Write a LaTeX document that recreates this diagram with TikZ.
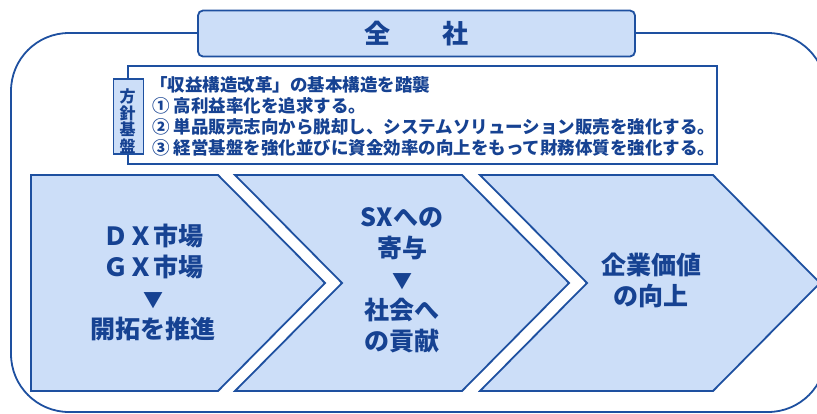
\documentclass[tikz,border=0pt]{standalone}
\usepackage{fontspec}
\newfontfamily\jp{Noto Sans CJK JP}
\definecolor{bord}{RGB}{30,80,160}
\definecolor{txt}{RGB}{22,66,146}
\definecolor{fillb}{RGB}{204,222,248}
\newcommand{\tri}{{\fontsize{20}{31}\selectfont ▼}}
\begin{document}
\begin{tikzpicture}[x=1pt,y=-1pt,
  frame/.style={draw=bord,line width=1.8pt,rounded corners=58pt},
  titlebox/.style={draw=bord,line width=1.8pt,fill=fillb,rounded corners=5pt,
    minimum width=437pt,minimum height=46pt,inner sep=0pt,text=txt,
    font=\jp\bfseries\fontsize{26}{30}\selectfont},
  policybox/.style={draw=bord,line width=1.6pt,fill=white,minimum width=589pt,
    minimum height=98pt,inner sep=0pt},
  labelbox/.style={draw=bord,line width=1.2pt,fill=fillb,minimum width=30pt,
    minimum height=75pt,inner sep=0pt},
  labeltext/.style={text=txt,align=center,inner sep=0pt,
    font=\jp\bfseries\fontsize{16}{16.5}\selectfont},
  pline/.style={anchor=west,inner sep=0pt,text=txt,
    font=\jp\bfseries\fontsize{17.5}{21}\selectfont},
  chev/.style={draw=bord,line width=1.8pt,fill=fillb,line join=miter},
  chevtext/.style={text=txt,align=center,inner sep=0pt,
    font=\jp\bfseries\fontsize{25}{31}\selectfont}]
\useasboundingbox (0,0) rectangle (817,413);
\clip (0,0) rectangle (817,413);
% outer frame
\draw[frame] (11,33) rectangle (826,412);
% title
\node[titlebox] (title) at (416.5,33.5) {全　　社};
% policy box
\node[policybox,anchor=north west] (policy) at (127,65) {};
\node[labelbox] (label) at (128.5,116.5) {};
\node[labeltext] (labeltxt) at (127.5,121) {方\\針\\基\\盤};
\node[pline] (l1) at (150,85) {「収益構造改革」の基本構造を踏襲};
\node[pline] (l2) at (152,106) {① 高利益率化を追求する。};
\node[pline] (l3) at (152,127) {② 単品販売志向から脱却し、システムソリューション販売を強化する。};
\node[pline] (l4) at (152,148) {③ 経営基盤を強化並びに資金効率の向上をもって財務体質を強化する。};
% chevrons
\draw[chev] (31,175) -- (218,175) -- (325,283) -- (218,391) -- (31,391) -- cycle;
\draw[chev] (235,175) -- (462,175) -- (569,283) -- (462,391) -- (235,391) -- (342,283) -- cycle;
\draw[chev] (480,175) -- (713,175) -- (820,283) -- (713,391) -- (480,391) -- (587,283) -- cycle;
\node[chevtext] (c1) at (153,282) {ＤＸ市場\\ＧＸ市場\\\tri\\開拓を推進};
\node[chevtext] (c2) at (402,280) {SXへの\\寄与\\\tri\\社会へ\\の貢献};
\node[chevtext] (c3) at (651,280) {企業価値\\の向上};
\end{tikzpicture}
\end{document}
